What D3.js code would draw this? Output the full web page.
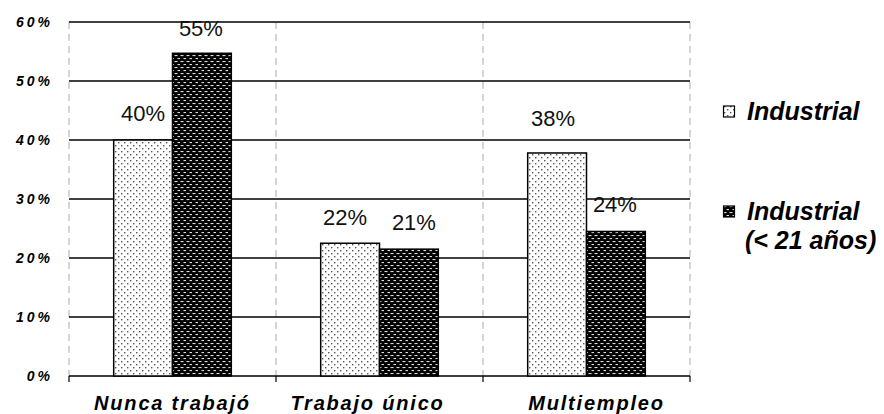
<!DOCTYPE html>
<html>
<head>
<meta charset="utf-8">
<script src="https://cdn.jsdelivr.net/npm/d3@7"></script>
<style>
  body { margin: 0; background: #fff; }
  svg { display: block; font-family: "Liberation Sans", Arial, sans-serif; }
</style>
</head>
<body>
<div id="chart"></div>
<script>
// Chart data
const categories = ['Nunca trabajó', 'Trabajo único', 'Multiempleo'];
const industrial = [0.40, 0.225, 0.378];
const industrialJoven = [0.547, 0.215, 0.245];
const valueLabels = [['40%', '22%', '38%'], ['55%', '21%', '24%']];
const yTicks = [0, 0.1, 0.2, 0.3, 0.4, 0.5, 0.6];
const legendLabels = [['Industrial'], ['Industrial', '(< 21 años)']];

const width = 884, height = 414;
const margin = { top: 22, right: 194, bottom: 38, left: 69 };

// Small nudges so labels sit where the original put them
const labelNudge = [[[0, -27], [-5, -26], [-4, -35]], [[-1, -25], [5, -27], [-1, -27]]];
const catNudge = [0, -12, 10];

const svg = d3.select('#chart').append('svg')
  .attr('width', width)
  .attr('height', height);

// Fill patterns for the two series
const defs = svg.append('defs');
const light = defs.append('pattern')
  .attr('id', 'pat-light')
  .attr('patternUnits', 'userSpaceOnUse')
  .attr('width', 6).attr('height', 6);
light.append('rect').attr('width', 6).attr('height', 6).attr('fill', '#fff');
light.append('rect').attr('x', 1).attr('y', 1).attr('width', 1.4).attr('height', 1.4).attr('fill', '#555');
light.append('rect').attr('x', 4).attr('y', 4).attr('width', 1.4).attr('height', 1.4).attr('fill', '#555');

const dark = defs.append('pattern')
  .attr('id', 'pat-dark')
  .attr('patternUnits', 'userSpaceOnUse')
  .attr('width', 6).attr('height', 6);
dark.append('rect').attr('width', 6).attr('height', 6).attr('fill', '#000');
dark.append('rect').attr('x', 0.5).attr('y', 1).attr('width', 3).attr('height', 1.1).attr('fill', '#ddd');
dark.append('rect').attr('x', 3.5).attr('y', 4).attr('width', 3).attr('height', 1.1).attr('fill', '#ddd');

const fills = ['url(#pat-light)', 'url(#pat-dark)'];

const x = d3.scaleBand()
  .domain(categories)
  .range([margin.left, width - margin.right])
  .paddingInner(0)
  .paddingOuter(0);

const x1 = d3.scaleBand()
  .domain([0, 1])
  .range([0, x.bandwidth()])
  .paddingOuter(0.76)
  .paddingInner(0);

const y = d3.scaleLinear()
  .domain([0, 0.6])
  .range([height - margin.bottom, margin.top]);

// Vertical dashed category separators
const seps = [margin.left].concat(categories.map(c => x(c) + x.bandwidth()));
svg.append('g')
  .selectAll('line')
  .data(seps)
  .join('line')
  .attr('x1', d => d).attr('x2', d => d)
  .attr('y1', y(0.6)).attr('y2', y(0))
  .attr('stroke', '#aaa')
  .attr('stroke-width', 1)
  .attr('stroke-dasharray', '7,5');

// Horizontal gridlines
svg.append('g')
  .selectAll('line')
  .data(yTicks)
  .join('line')
  .attr('x1', margin.left).attr('x2', width - margin.right)
  .attr('y1', d => y(d)).attr('y2', d => y(d))
  .attr('stroke', '#000')
  .attr('stroke-width', 1.5);

// Y tick labels
svg.append('g')
  .selectAll('text')
  .data(yTicks)
  .join('text')
  .attr('x', 53)
  .attr('y', d => y(d))
  .attr('dy', '0.35em')
  .attr('text-anchor', 'end')
  .attr('font-size', 14)
  .attr('font-weight', 'bold')
  .attr('font-style', 'italic')
  .attr('letter-spacing', '3px')
  .text(d => Math.round(d * 100) + '%');

// X axis ticks at 0%
svg.append('g')
  .selectAll('line')
  .data(seps)
  .join('line')
  .attr('x1', d => d).attr('x2', d => d)
  .attr('y1', y(0)).attr('y2', y(0) + 6)
  .attr('stroke', '#000')
  .attr('stroke-width', 1.2);

// Bars
const series = [industrial, industrialJoven];
series.forEach((vals, s) => {
  svg.append('g')
    .selectAll('rect')
    .data(vals)
    .join('rect')
    .attr('x', (d, i) => x(categories[i]) + x1(s))
    .attr('y', d => y(d))
    .attr('width', x1.bandwidth())
    .attr('height', d => y(0) - y(d))
    .attr('fill', fills[s])
    .attr('stroke', '#000')
    .attr('stroke-width', 1.5);
});

// Value labels
series.forEach((vals, s) => {
  svg.append('g')
    .selectAll('text')
    .data(vals)
    .join('text')
    .attr('x', (d, i) => x(categories[i]) + x1(s) + x1.bandwidth() / 2 + labelNudge[s][i][0])
    .attr('y', (d, i) => y(d) + labelNudge[s][i][1])
    .attr('dy', '0.35em')
    .attr('text-anchor', 'middle')
    .attr('font-size', 22)
    .attr('fill', '#111')
    .text((d, i) => valueLabels[s][i]);
});

// Category labels
svg.append('g')
  .selectAll('text')
  .data(categories)
  .join('text')
  .attr('x', (d, i) => x(d) + x.bandwidth() / 2 + catNudge[i])
  .attr('y', 410)
  .attr('text-anchor', 'middle')
  .attr('font-size', 20)
  .attr('font-weight', 'bold')
  .attr('font-style', 'italic')
  .attr('letter-spacing', '1.8px')
  .text(d => d);

// Legend
const legendY = [111, 211];
legendLabels.forEach((lines, s) => {
  const g = svg.append('g').attr('transform', `translate(723,${legendY[s]})`);
  g.append('rect')
    .attr('x', 0.5).attr('y', -5)
    .attr('width', 11).attr('height', 11)
    .attr('fill', fills[s])
    .attr('stroke', '#000')
    .attr('stroke-width', 1.2);
  g.selectAll('text')
    .data(lines)
    .join('text')
    .attr('x', (d, i) => i === 0 ? 24 : 22)
    .attr('y', (d, i) => i * 29)
    .attr('dy', '0.35em')
    .attr('font-size', 25)
    .attr('font-weight', 'bold')
    .attr('font-style', 'italic')
    .text(d => d);
});
</script>
</body>
</html>
